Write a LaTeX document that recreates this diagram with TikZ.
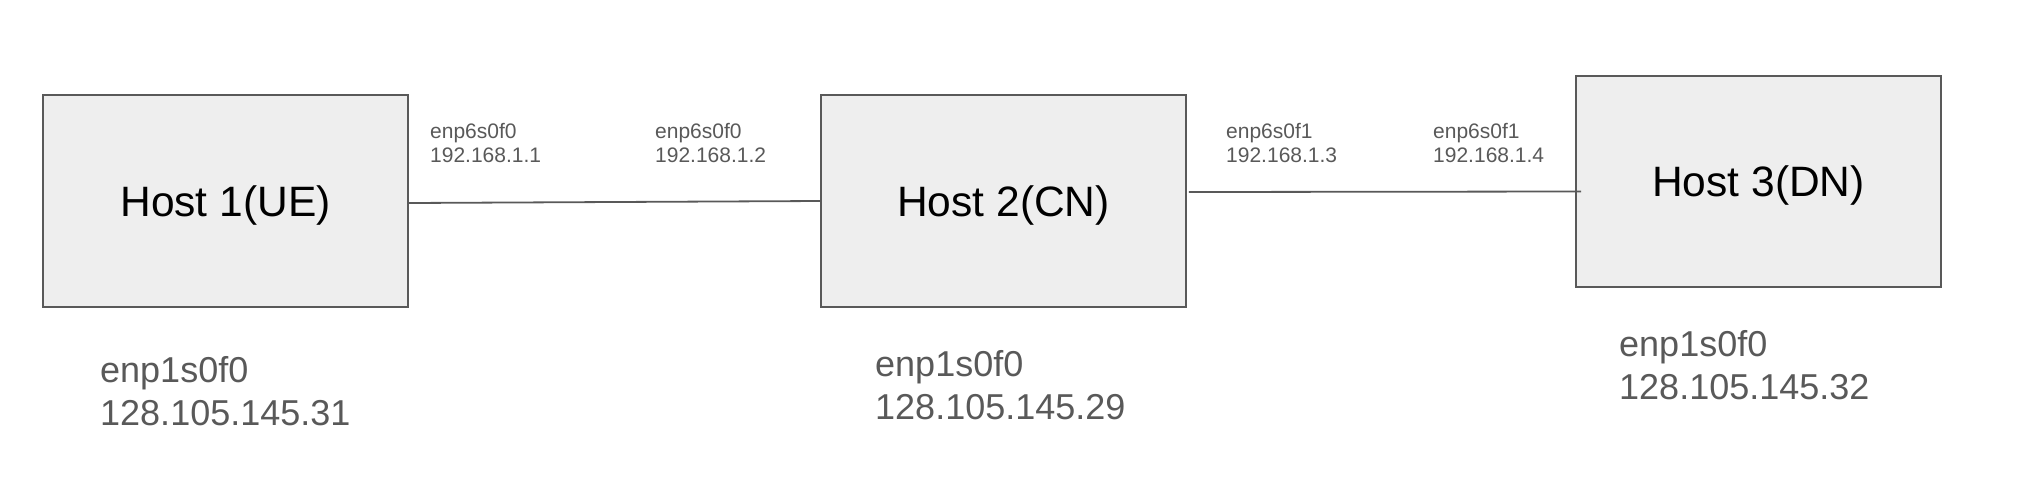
\documentclass[tikz,border=0pt]{standalone}
\usepackage{fontspec}
\setmainfont{Liberation Sans}
\definecolor{edgegrey}{HTML}{595959}
\definecolor{boxfill}{HTML}{EEEEEE}
\begin{document}
\begin{tikzpicture}[x=1pt,y=-1pt,
  hostbox/.style={draw=edgegrey, fill=boxfill, line width=1.8pt, minimum width=365pt, minimum height=212pt, inner sep=0pt,
    text depth=0pt, font=\fontsize{42.5}{51}\selectfont, text=black},
  link/.style={draw=edgegrey, line width=1.8pt},
  iflabel/.style={anchor=north west, align=left, inner sep=0pt, text=edgegrey, font=\fontsize{21}{24}\selectfont},
  mgmtlabel/.style={anchor=north west, align=left, inner sep=0pt, text=edgegrey, font=\fontsize{36}{43}\selectfont}]
\useasboundingbox (0,0) rectangle (2030,480);
\node[hostbox] (h1) at (225.5,201) {Host 1(UE)};
\node[hostbox] (h2) at (1003.5,201) {Host 2(CN)};
\node[hostbox, minimum height=211pt] (h3) at (1758.5,181.5) {Host 3(DN)};
\draw[link] ([yshift=-2pt]h1.east) -- (h2.west);
\draw[link] ([xshift=2pt,yshift=9pt]h2.east) -- ([xshift=6pt,yshift=-10pt]h3.west);
\node[iflabel] (a1) at (430,123) {enp6s0f0\\192.168.1.1};
\node[iflabel] (a2) at (655,123) {enp6s0f0\\192.168.1.2};
\node[iflabel] (a3) at (1226,123) {enp6s0f1\\192.168.1.3};
\node[iflabel] (a4) at (1433,123) {enp6s0f1\\192.168.1.4};
\node[mgmtlabel] (m1) at (100,356) {enp1s0f0\\128.105.145.31};
\node[mgmtlabel] (m2) at (875,350) {enp1s0f0\\128.105.145.29};
\node[mgmtlabel] (m3) at (1619,330) {enp1s0f0\\128.105.145.32};
\end{tikzpicture}
\end{document}
